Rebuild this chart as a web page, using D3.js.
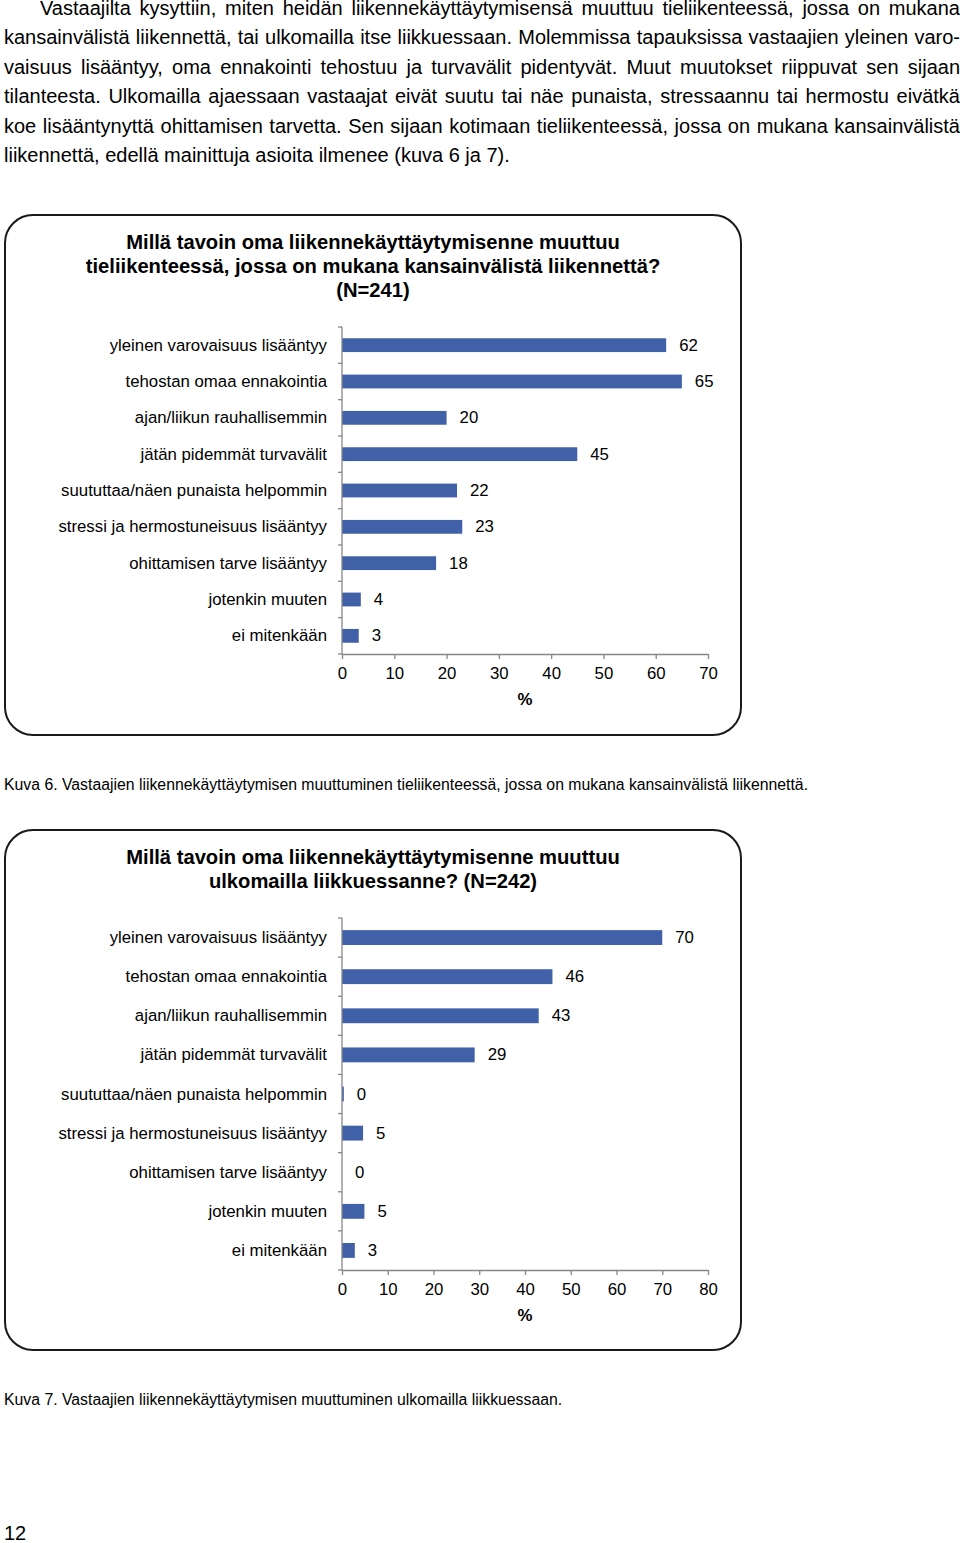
<!DOCTYPE html>
<html><head><meta charset="utf-8">
<script src="https://cdn.jsdelivr.net/npm/d3@7"></script>
<style>
html,body{margin:0;padding:0;background:#fff;}
body{width:960px;height:1543px;position:relative;overflow:hidden;font-family:"Liberation Sans",Arial,sans-serif;color:#000;}
#para{position:absolute;left:4px;top:-6px;width:956px;font-size:20px;line-height:29.4px;}
#para div{text-align:justify;text-align-last:justify;white-space:nowrap;}
#para div.first{text-indent:36px;}
#para div.last{text-align-last:left;}
.cap{position:absolute;left:4px;font-size:15.8px;white-space:nowrap;}
#pnum{position:absolute;left:4px;top:1522px;font-size:20px;}
svg{position:absolute;left:0;top:0;}
</style></head>
<body>
<div id="para"></div>
<div class="cap" id="cap1" style="top:776px"></div>
<div class="cap" id="cap2" style="top:1391px"></div>
<div id="pnum">12</div>
<svg id="chart" width="960" height="1543"></svg>
<script>
const paraLines = [
 "Vastaajilta kysyttiin, miten heidän liikennekäyttäytymisensä muuttuu tieliikenteessä, jossa on mukana",
 "kansainvälistä liikennettä, tai ulkomailla itse liikkuessaan. Molemmissa tapauksissa vastaajien yleinen varo-",
 "vaisuus lisääntyy, oma ennakointi tehostuu ja turvavälit pidentyvät. Muut muutokset riippuvat sen sijaan",
 "tilanteesta. Ulkomailla ajaessaan vastaajat eivät suutu tai näe punaista, stressaannu tai hermostu eivätkä",
 "koe lisääntynyttä ohittamisen tarvetta. Sen sijaan kotimaan tieliikenteessä, jossa on mukana kansainvälistä",
 "liikennettä, edellä mainittuja asioita ilmenee (kuva 6 ja 7)."
];
const caption1 = "Kuva 6. Vastaajien liikennekäyttäytymisen muuttuminen tieliikenteessä, jossa on mukana kansainvälistä liikennettä.";
const caption2 = "Kuva 7. Vastaajien liikennekäyttäytymisen muuttuminen ulkomailla liikkuessaan.";

const categories = [
 "yleinen varovaisuus lisääntyy",
 "tehostan omaa ennakointia",
 "ajan/liikun rauhallisemmin",
 "jätän pidemmät turvavälit",
 "suututtaa/näen punaista helpommin",
 "stressi ja hermostuneisuus lisääntyy",
 "ohittamisen tarve lisääntyy",
 "jotenkin muuten",
 "ei mitenkään"
];
const title1 = ["Millä tavoin oma liikennekäyttäytymisenne muuttuu", "tieliikenteessä, jossa on mukana kansainvälistä liikennettä?", "(N=241)"];
const values1 = [62, 65, 20, 45, 22, 23, 18, 3.6, 3.2];
const ticks1 = [0, 10, 20, 30, 40, 50, 60, 70];

const title2 = ["Millä tavoin oma liikennekäyttäytymisenne muuttuu", "ulkomailla liikkuessanne? (N=242)"];
const values2 = [70, 46, 43, 29, 0.4, 4.6, 0, 4.9, 2.8];
const ticks2 = [0, 10, 20, 30, 40, 50, 60, 70, 80];

const axisTitle = "%";

d3.select("#para").selectAll("div").data(paraLines).join("div")
  .classed("first", (d, i) => i === 0)
  .classed("last", (d, i) => i === paraLines.length - 1)
  .text(d => d);
d3.select("#cap1").text(caption1);
d3.select("#cap2").text(caption2);

const svg = d3.select("#chart");
const fmt = d3.format(".0f");
const FS = 16.8;

function drawChart(cfg) {
  const g = svg.append("g");
  g.append("rect")
    .attr("x", cfg.box[0]).attr("y", cfg.box[1])
    .attr("width", cfg.box[2]).attr("height", cfg.box[3])
    .attr("rx", 28).attr("ry", 28)
    .attr("fill", "#fff").attr("stroke", "#1a1a1a").attr("stroke-width", 2);

  g.append("g").selectAll("text").data(cfg.title).join("text")
    .attr("x", 373).attr("y", (d, i) => cfg.titleY + i * 24)
    .attr("text-anchor", "middle").attr("dominant-baseline", "central")
    .attr("font-size", 20.2).attr("font-weight", "bold")
    .text(d => d);

  const x = d3.scaleLinear().domain([0, d3.max(cfg.ticks)]).range([342, 708]);
  const y = d3.scaleBand().domain(categories).range([cfg.top, cfg.bottom])
    .paddingInner(0.62).paddingOuter(0.31);
  const step = y.step();
  const axisColor = "#878787";

  g.append("g").selectAll("rect").data(cfg.values).join("rect")
    .attr("x", x(0))
    .attr("y", (d, i) => y(categories[i]))
    .attr("width", d => x(d) - x(0))
    .attr("height", y.bandwidth())
    .attr("fill", "#4060a8");

  g.append("g").selectAll("text").data(cfg.values).join("text")
    .attr("x", d => x(d) + 13)
    .attr("y", (d, i) => y(categories[i]) + y.bandwidth() / 2)
    .attr("dominant-baseline", "central")
    .attr("font-size", FS)
    .text(d => fmt(d));

  g.append("g").selectAll("text").data(categories).join("text")
    .attr("x", 327)
    .attr("y", d => y(d) + y.bandwidth() / 2)
    .attr("text-anchor", "end").attr("dominant-baseline", "central")
    .attr("font-size", FS)
    .text(d => d);

  const bounds = d3.range(categories.length + 1).map(i => cfg.top + i * step);
  g.append("line").attr("x1", x(0)).attr("x2", x(0))
    .attr("y1", cfg.top).attr("y2", cfg.bottom)
    .attr("stroke", axisColor).attr("stroke-width", 1.3);
  g.append("g").selectAll("line").data(bounds).join("line")
    .attr("x1", x(0) - 4).attr("x2", x(0))
    .attr("y1", d => d).attr("y2", d => d)
    .attr("stroke", axisColor).attr("stroke-width", 1.3);

  const xa = g.append("g").attr("transform", `translate(0,${cfg.bottom})`)
    .call(d3.axisBottom(x).tickValues(cfg.ticks).tickSize(5).tickPadding(8).tickSizeOuter(0));
  xa.select(".domain").attr("stroke", axisColor).attr("stroke-width", 1.3);
  xa.selectAll(".tick line").attr("stroke", axisColor).attr("stroke-width", 1.3);
  xa.selectAll(".tick text").attr("font-size", FS).attr("fill", "#000")
    .attr("font-family", "'Liberation Sans', Arial, sans-serif");

  g.append("text").attr("x", 525).attr("y", cfg.bottom + 45)
    .attr("text-anchor", "middle").attr("dominant-baseline", "central")
    .attr("font-size", FS).attr("font-weight", "bold").text(axisTitle);
}

drawChart({box: [5, 215, 736, 520], title: title1, titleY: 242, values: values1, ticks: ticks1, top: 327, bottom: 654});
drawChart({box: [5, 830, 736, 520], title: title2, titleY: 857, values: values2, ticks: ticks2, top: 918, bottom: 1270});
</script>
</body></html>
